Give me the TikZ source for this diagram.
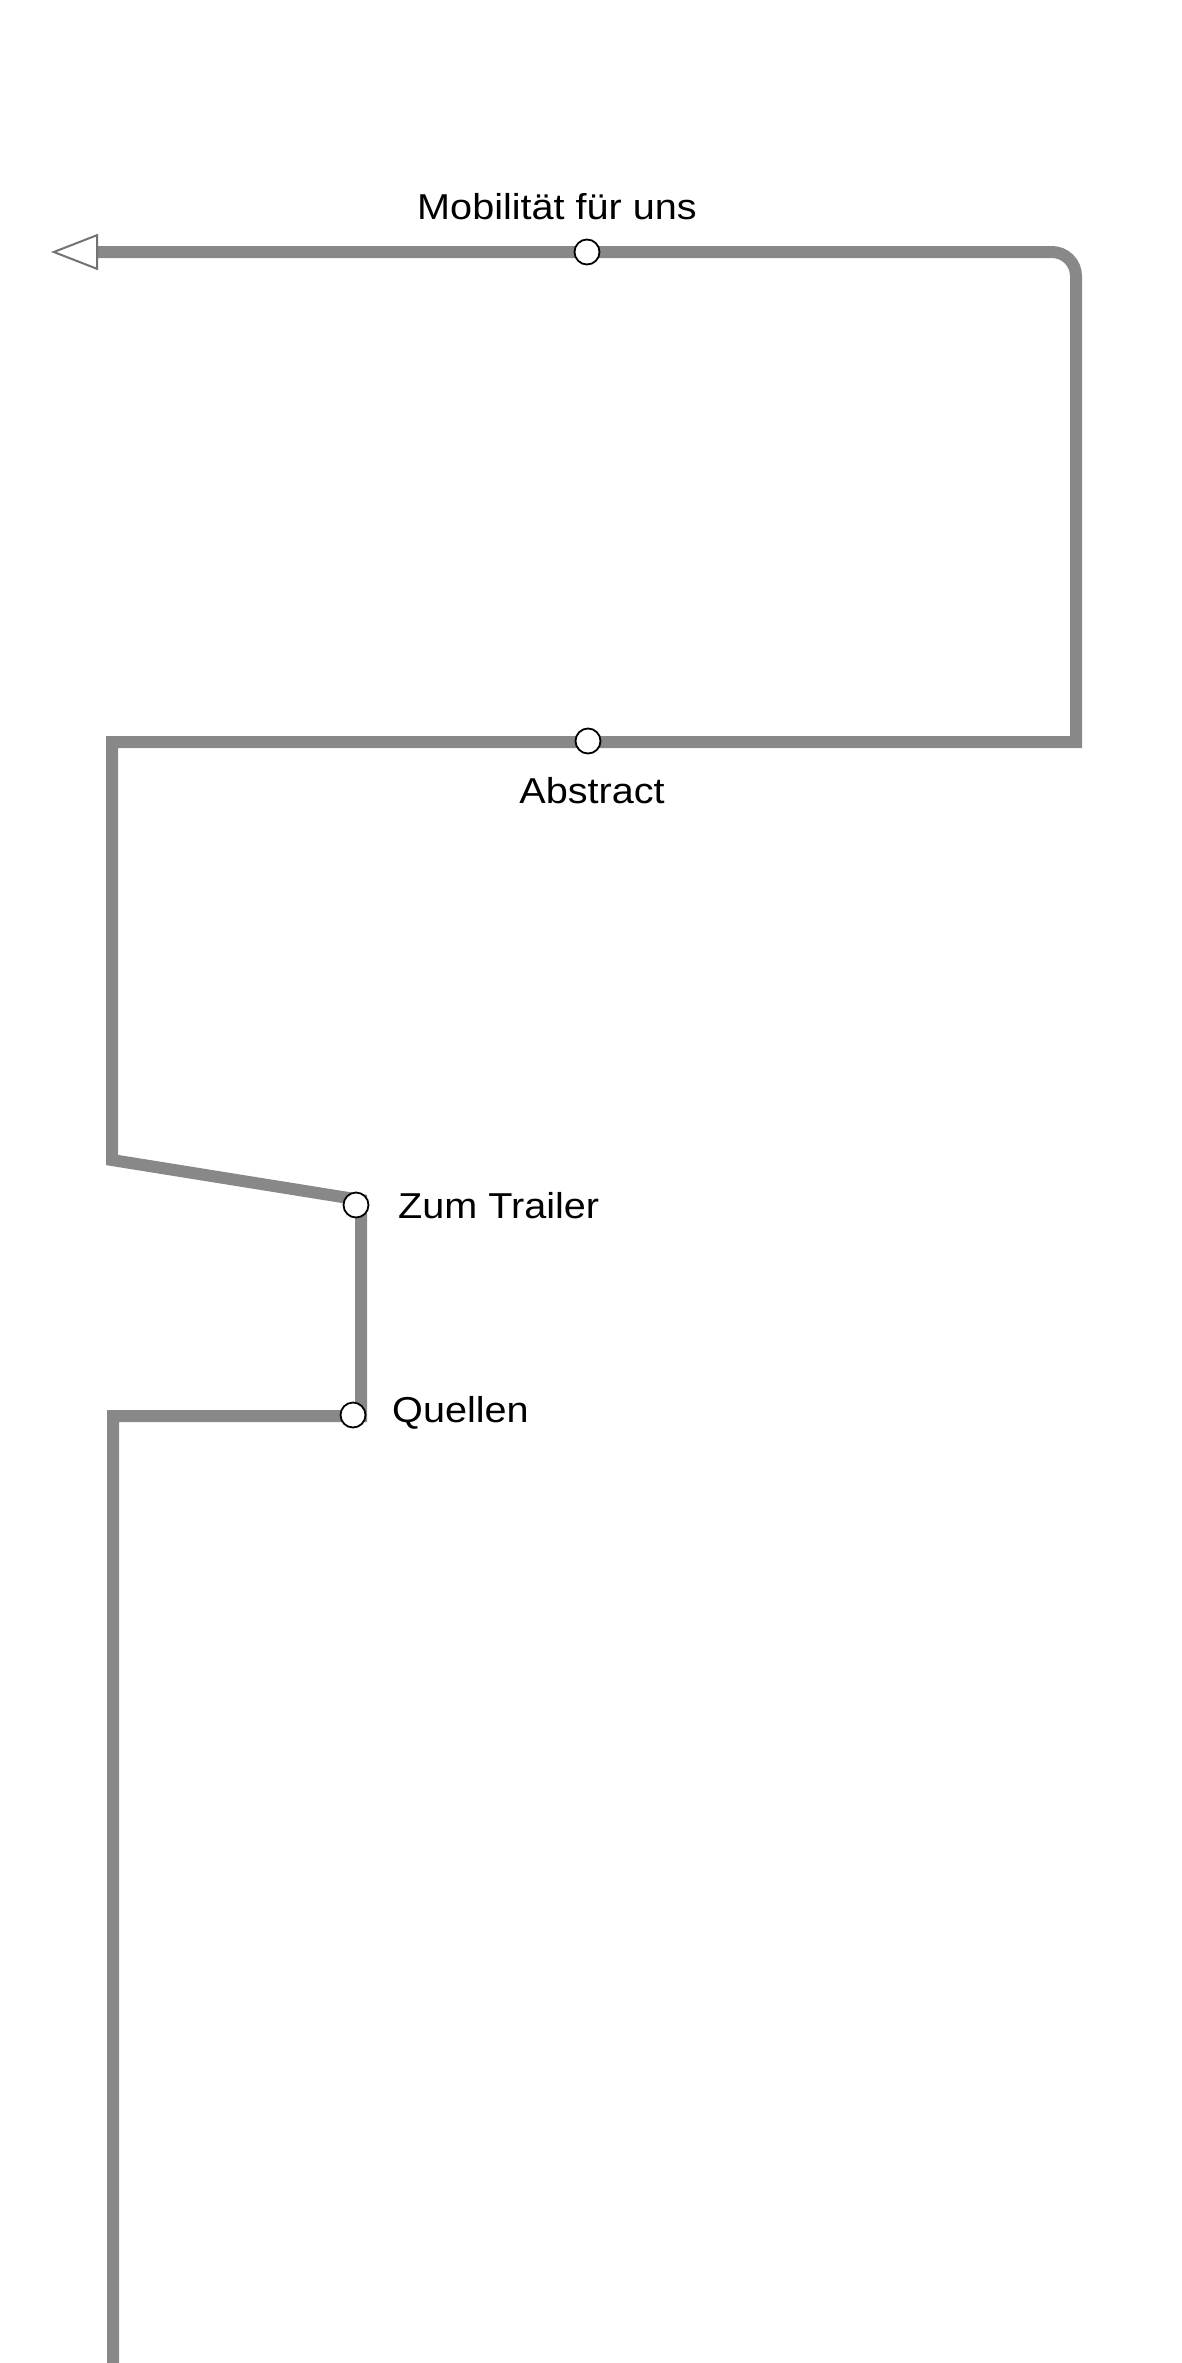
\documentclass[tikz,border=0pt]{standalone}
\usepackage{fontspec}
\setmainfont[FakeStretch=1.1]{Liberation Sans}
\usetikzlibrary{arrows.meta}
\definecolor{linegray}{RGB}{136,136,136}
\definecolor{tipgray}{RGB}{115,115,115}
\tikzset{
  route/.style={draw=linegray, line width=12pt, line join=miter},
  station/.style={circle, draw=black, fill=white, line width=1.8pt, minimum size=25pt, inner sep=0pt},
  lbl/.style={inner sep=0pt, font=\fontsize{36}{40}\selectfont, text=black},
}
\begin{document}
\begin{tikzpicture}[x=1pt, y=-1pt]
\useasboundingbox (0,0) rectangle (1182,2363);
% route corners
\coordinate (start) at (113,2366);
\coordinate (c1) at (113,1416);
\coordinate (c2) at (361,1416);
\coordinate (c3) at (361,1200);
\coordinate (c4) at (112,1160);
\coordinate (c5) at (112,742);
\coordinate (c6) at (1076,742);
\coordinate (c7) at (1076,276);
\coordinate (c8) at (1052,252);
\coordinate (tip) at (51,252);
\draw[route, -{Triangle[open, fill=white, color=tipgray, length=47pt, width=36pt, line width=2pt]}]
  (start) -- (c1) -- (c2) -- (c3) -- (c4) -- (c5) -- (c6) -- (c7)
  .. controls (1076,262.8) and (1065.2,252) .. (c8) -- (tip);
% stations
\node[station] (mob) at (587,252) {};
\node[station] (abs) at (588,741) {};
\node[station] (trl) at (356,1205) {};
\node[station] (que) at (353,1415) {};
% labels
\node[lbl, anchor=base] (mobl) at (557,219) {Mobilität für uns};
\node[lbl, anchor=base] (absl) at (592,803) {Abstract};
\node[lbl, anchor=base west] (trll) at (398,1218) {Zum Trailer};
\node[lbl, anchor=base west] (quel) at (392,1422) {Quellen};
\end{tikzpicture}
\end{document}
